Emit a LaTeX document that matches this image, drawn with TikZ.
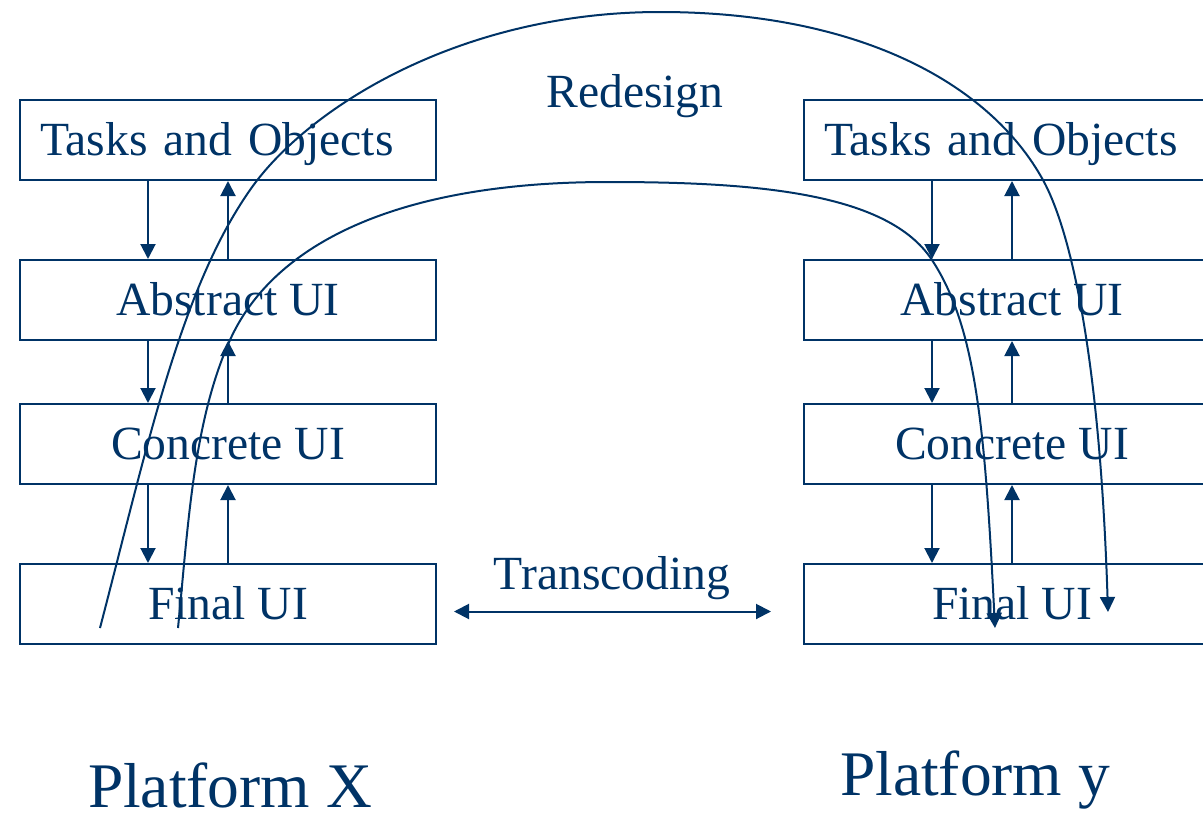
\documentclass[tikz,border=0pt]{standalone}
\usepackage{fontspec}
\setmainfont{Liberation Serif}
\usepackage{tikz}
\usetikzlibrary{positioning}
\usetikzlibrary{arrows.meta}

\definecolor{navy}{RGB}{0,51,102}

\begin{document}
\begin{tikzpicture}[x=1pt, y=-1pt, >={Triangle[length=15pt, width=15pt]},
color=navy, line width=2pt,
layer/.style={rectangle, draw=navy, text=navy, minimum width=416pt, minimum height=80pt, inner sep=0pt, text height=31.5pt, text depth=0pt, font=\fontsize{47.6pt}{57pt}\selectfont, node distance=78pt and 366pt},
toplayer/.style={layer, text width=376pt, align=left},
lbl/.style={text=navy, inner sep=0pt, text height=31.5pt, text depth=0pt, font=\fontsize{47.6pt}{57pt}\selectfont},
plat/.style={text=navy, inner sep=0pt, text height=42pt, text depth=0pt, font=\fontsize{63.5pt}{76pt}\selectfont},]

\useasboundingbox (0,0) rectangle (1203,814);
\clip (0,0) rectangle (1203,814);

% platform X
\node[toplayer] (X_TO) at (228,140) {Tasks and Objects};
\node[layer] (X_AUI) [below=of X_TO] {Abstract UI};
\node[layer, node distance=62pt] (X_CUI) [below=of X_AUI] {Concrete UI};
\node[layer] (X_FUI) [below=of X_CUI] {Final UI};

\draw[->] ([xshift=-80pt]X_TO.south) -- ([xshift=-80pt]X_AUI.north);
\draw[->] (X_AUI.north) -- (X_TO.south);
\draw[->] ([xshift=-80pt]X_AUI.south) -- ([xshift=-80pt]X_CUI.north);
\draw[->] (X_CUI.north) -- (X_AUI.south);
\draw[->] ([xshift=-80pt]X_CUI.south) -- ([xshift=-80pt]X_FUI.north);
\draw[->] (X_FUI.north) -- (X_CUI.south);

% platform y
\node[toplayer] (Y_TO) [right=of X_TO] {Tasks and Objects};
\node[layer] (Y_AUI) [right=of X_AUI] {Abstract UI};
\node[layer] (Y_CUI) [right=of X_CUI] {Concrete UI};
\node[layer] (Y_FUI) [right=of X_FUI] {Final UI};

\draw[->] ([xshift=-80pt]Y_TO.south) -- ([xshift=-80pt]Y_AUI.north);
\draw[->] (Y_AUI.north) -- (Y_TO.south);
\draw[->] ([xshift=-80pt]Y_AUI.south) -- ([xshift=-80pt]Y_CUI.north);
\draw[->] (Y_CUI.north) -- (Y_AUI.south);
\draw[->] ([xshift=-80pt]Y_CUI.south) -- ([xshift=-80pt]Y_FUI.north);
\draw[->] (Y_FUI.north) -- (Y_CUI.south);

% transcoding
\node[lbl] (trans) at (612,574) {Transcoding};
\draw[<->] ([xshift=17pt, yshift=-7.5pt]X_FUI.east) -- ([xshift=-32pt, yshift=-7.5pt]Y_FUI.west);

% redesign
\node[lbl] (redesign) at (635,92) {Redesign};
\coordinate (outerS) at (100,628);
\coordinate (outerE) at (1108,612);
\coordinate (innerS) at (178,628);
\coordinate (innerE) at (995,628);

\draw[->] (outerS) .. controls (147,448) and (180,290) .. (250,190)
  .. controls (307,108) and (460,12) .. (660,12)
  .. controls (860,12) and (990,84) .. (1043,180)
  .. controls (1072,233) and (1100,362) .. (outerE);
\draw[->] (innerS) .. controls (188,528) and (193,422) .. (230,340)
  .. controls (271,249) and (388,182) .. (608,182)
  .. controls (758,182) and (888,193) .. (932,260)
  .. controls (976,327) and (985,428) .. (innerE);

\node[plat] (platX) at (230,786) {Platform X};
\node[plat] (platY) at (975,774) {Platform y};

\end{tikzpicture}
\end{document}
